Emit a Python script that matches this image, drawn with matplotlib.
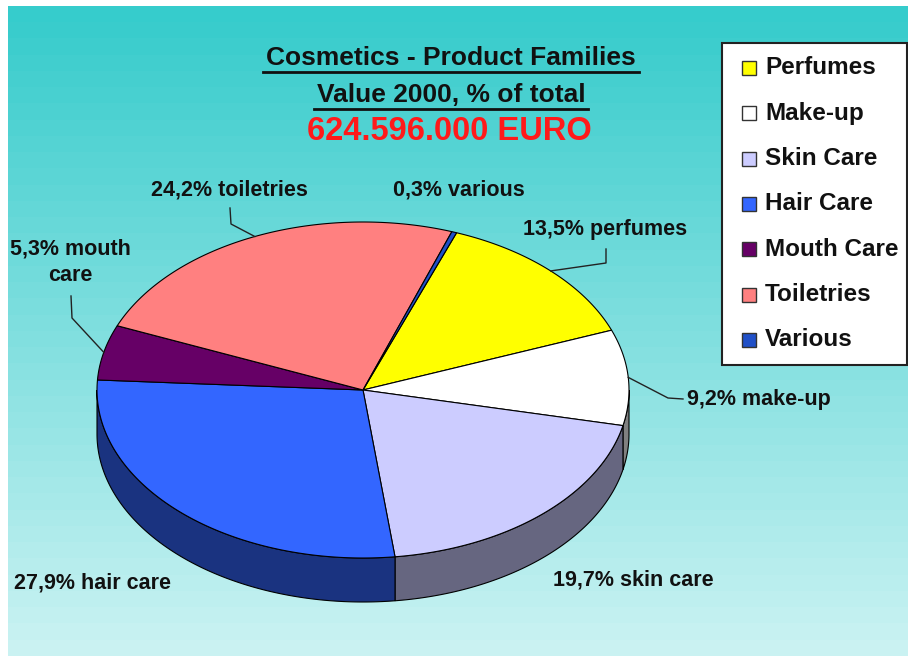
import numpy as np
import matplotlib.pyplot as plt
from matplotlib.patches import Rectangle

plt.rcParams['font.family'] = ['Liberation Sans', 'DejaVu Sans']

# -------------------------------
# Data
# -------------------------------
categories = ["Perfumes", "Make-up", "Skin Care", "Hair Care", "Mouth Care", "Toiletries", "Various"]
shares = [13.5, 9.2, 19.7, 27.9, 5.3, 24.2, 0.3]
slice_labels = ["13,5% perfumes", "9,2% make-up", "19,7% skin care", "27,9% hair care",
                "5,3% mouth\ncare", "24,2% toiletries", "0,3% various"]
colors = ["#FFFF00", "#FFFFFF", "#CCCCFF", "#3366FF", "#660066", "#FF8080", "#2050C8"]

title_lines = ["Cosmetics - Product Families", "Value 2000, % of total"]
total_text = "624.596.000 EURO"

# -------------------------------
# Layout (pixel space)
# -------------------------------
W, H = 908, 656
cx, cy = 363, 390          # centre of top face
rx, ry = 266, 168          # ellipse radii
depth = 44                 # pie thickness
start_angle = 69.4         # first slice starts here, going clockwise

# label anchor (text centre) and leader elbow, per slice (None = no leader)
label_pos = [(605, 230), (759, 400), (633, 580), (92, 583), (70, 262), (229, 190), (459, 190)]
leader_elbow = [[(606, 263), (606, 249)],
                [(668, 398), (683, 399)],
                None, None,
                [(72, 318), (71, 296)],
                [(231, 224), (230, 208)],
                None]

fig = plt.figure(figsize=(W / 100, H / 100), dpi=100)
ax = fig.add_axes([0, 0, 1, 1])

# background gradient (banded, like the original)
n_bands = 40
top_c = np.array([0x36, 0xCC, 0xCC]) / 255
bot_c = np.array([0xCA, 0xF2, 0xF2]) / 255
g = np.linspace(0, 1, n_bands)[:, None]
grad = (top_c + (bot_c - top_c) * g).reshape(n_bands, 1, 3)
ax.imshow(grad, extent=(8, W, H, 6), aspect='auto', interpolation='nearest', zorder=0)
ax.set_xlim(0, W)
ax.set_ylim(H, 0)
ax.axis('off')


def arc(a0, a1, dy=0.0):
    n = max(int(abs(a1 - a0) * 2), 2)
    t = np.radians(np.linspace(a0, a1, n))
    return cx + rx * np.cos(t), cy - ry * np.sin(t) + dy


def darker(c, f=0.5):
    c = np.array([int(c[i:i + 2], 16) for i in (1, 3, 5)]) / 255
    return tuple(c * f)


sweep = np.array(shares) / np.sum(shares) * 360
bounds = start_angle - np.concatenate([[0], np.cumsum(sweep)])

# side walls (front half only)
for i in range(len(shares)):
    hi, lo = bounds[i], bounds[i + 1]
    for k in (-360, 0, 360):
        s, e = max(lo, 180 + k), min(hi, 360 + k)
        if e > s:
            x, y = arc(s, e)
            px = np.concatenate([x, x[::-1]])
            py = np.concatenate([y, (y + depth)[::-1]])
            ax.fill(px, py, facecolor=darker(colors[i]), edgecolor='black', lw=0.8, zorder=2)

# top faces
for i in range(len(shares)):
    x, y = arc(bounds[i], bounds[i + 1])
    ax.fill(np.concatenate([[cx], x]), np.concatenate([[cy], y]),
            facecolor=colors[i], edgecolor='black', lw=0.8, zorder=3)

# slice labels + leader lines
for i, txt in enumerate(slice_labels):
    lx, ly = label_pos[i]
    ax.text(lx, ly, txt, ha='center', va='center', fontsize=15.5, fontweight='bold',
            color='#111111', linespacing=1.35, zorder=5)
    if leader_elbow[i] is not None:
        mid = np.radians((bounds[i] + bounds[i + 1]) / 2)
        ax0, ay0 = cx + rx * np.cos(mid), cy - ry * np.sin(mid)
        pts = [(ax0, ay0)] + leader_elbow[i]
        ax.plot([p[0] for p in pts], [p[1] for p in pts], color='#222222', lw=1.0, zorder=4)

# title block with underlines
fig.canvas.draw()
renderer = fig.canvas.get_renderer()
title_y = [58, 95]
for t, ty in zip(title_lines, title_y):
    tt = ax.text(451, ty, t, ha='center', va='center', fontsize=19, fontweight='bold',
                 color='#111111', zorder=5)
    bb = tt.get_window_extent(renderer).transformed(ax.transData.inverted())
    ax.plot([bb.x0 - 3, bb.x1 + 3], [ty + 14, ty + 14], color='#111111', lw=2.0, zorder=5)
ax.text(449, 132, total_text, ha='center', va='center', fontsize=23.5, fontweight='bold',
        color='#FF1A1A', zorder=5)

# legend
ax.add_patch(Rectangle((722, 43), 185, 322, facecolor='white', edgecolor='#222222', lw=1.5, zorder=6))
for i, name in enumerate(categories):
    ey = 68 + 45.3 * i
    ax.add_patch(Rectangle((742, ey - 7), 14, 14, facecolor=colors[i], edgecolor='#333333',
                           lw=1.0, zorder=7))
    ax.text(765, ey, name, ha='left', va='center', fontsize=17.5, fontweight='bold',
            color='#111111', zorder=7)

fig.savefig("out.png", dpi=100)
